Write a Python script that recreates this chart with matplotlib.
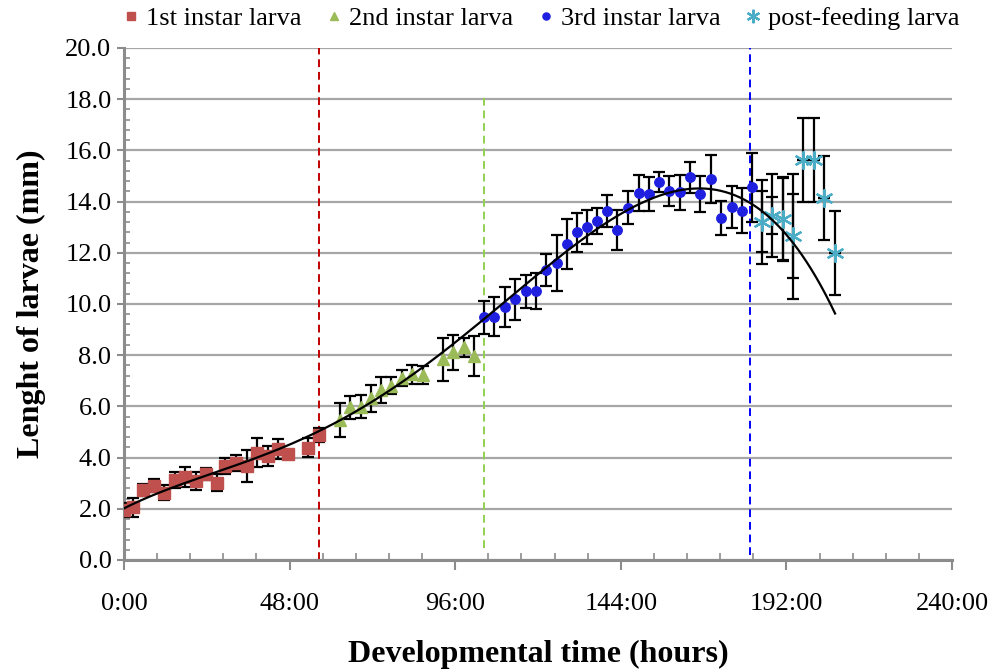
import numpy as np
import matplotlib
matplotlib.use('Agg')
import matplotlib.pyplot as plt
from matplotlib.ticker import MultipleLocator, FuncFormatter

plt.rcParams['font.family'] = ['Liberation Serif', 'DejaVu Serif']

# 1st instar larva
t1 = [0.0, 2.7, 5.6, 8.8, 11.7, 14.8, 17.7, 20.9, 23.8, 26.9, 29.4, 32.5, 35.6,
      38.6, 41.6, 44.7, 47.6, 53.4, 56.6]
y1 = [1.95, 2.06, 2.73, 2.90, 2.63, 3.13, 3.26, 3.09, 3.36, 3.02, 3.67, 3.78, 3.67,
      4.19, 4.06, 4.32, 4.14, 4.39, 4.88]
e1 = [0.26, 0.38, 0.23, 0.26, 0.29, 0.31, 0.39, 0.34, 0.22, 0.34, 0.32, 0.31, 0.61,
      0.56, 0.39, 0.39, 0.15, 0.36, 0.26]

# 2nd instar larva
t2 = [62.6, 65.5, 68.6, 71.5, 74.4, 77.3, 80.5, 83.4, 86.6, 92.6, 95.4, 98.6, 101.4]
y2 = [5.47, 5.96, 5.99, 6.32, 6.64, 6.81, 7.10, 7.25, 7.23, 7.84, 8.11, 8.31, 7.97]
e2 = [0.68, 0.46, 0.45, 0.53, 0.50, 0.34, 0.31, 0.36, 0.36, 0.83, 0.67, 0.38, 0.78]

# 3rd instar larva
t3 = [104.3, 107.2, 110.4, 113.3, 116.4, 119.4, 122.3, 125.4, 128.3, 131.2, 134.3,
      137.2, 140.1, 143.0, 146.2, 149.3, 152.2, 155.1, 158.0, 161.2, 164.0, 167.0,
      170.1, 173.0, 176.1, 179.0, 182.1]
y3 = [9.48, 9.50, 9.87, 10.18, 10.50, 10.50, 11.33, 11.61, 12.34, 12.80, 13.02,
      13.24, 13.63, 12.89, 13.76, 14.35, 14.30, 14.75, 14.40, 14.36, 14.95, 14.30,
      14.87, 13.37, 13.78, 13.64, 14.55]
e3 = [0.65, 0.77, 0.78, 0.81, 0.65, 0.70, 0.64, 1.09, 0.99, 0.76, 0.67,
      0.52, 0.63, 0.77, 0.64, 0.70, 0.65, 0.39, 0.59, 0.68, 0.60, 0.70,
      0.94, 0.67, 0.81, 0.88, 1.35]

# post-feeding larva
t4 = [184.8, 187.9, 190.9, 194.0, 196.7, 200.0, 203.0, 206.1]
y4 = [13.22, 13.45, 13.31, 12.64, 15.63, 15.63, 14.13, 12.00]
e4 = [1.64, 1.63, 1.65, 2.44, 1.64, 1.64, 1.64, 1.63]
e4_inner = [1.20, 0.72, 1.60, 1.64, 0, 0, 0, 0]

# trend line (hours, mm)
trend_t = [0.0, 15.3, 27.8, 30.2, 42.3, 56.5, 81.0, 100.3, 104.1, 128.3, 138.0,
           143.8, 164.1, 169.9, 178.6, 182.4, 194.0, 206.1]
trend_y = [2.02, 2.86, 3.49, 3.65, 4.17, 5.00, 7.03, 8.92, 9.38, 12.11, 13.02,
           13.48, 14.52, 14.48, 14.26, 13.60, 12.57, 9.57]

# stage boundaries (hours)
stage_lines = [56.5, 104.3, 181.4]
stage_colors = ['#C00000', '#92D050', '#0000FF']
stage_spans = [(0.0, 20.0), (0.45, 18.1), (0.2, 20.0)]

labels = ['1st instar larva', '2nd instar larva', '3rd instar larva', 'post-feeding larva']

fig = plt.figure(figsize=(9.91, 6.7), dpi=100)
ax = fig.add_axes([0.1251, 0.1642, 0.8356, 0.7642])

ax.set_xlim(0, 240)
ax.set_ylim(0, 20)

ax.yaxis.set_major_locator(MultipleLocator(2))
ax.yaxis.set_minor_locator(MultipleLocator(0.4))
ax.xaxis.set_major_locator(MultipleLocator(48))
ax.xaxis.set_minor_locator(MultipleLocator(9.6))
ax.yaxis.set_major_formatter(FuncFormatter(lambda v, p: f'{v:.1f}'))
ax.xaxis.set_major_formatter(FuncFormatter(lambda v, p: f'{int(round(v))}:00'))

ax.grid(axis='y', which='major', color='#A6A6A6', lw=1.6, zorder=0)
ax.set_axisbelow(True)

ax.spines['top'].set_visible(False)
ax.spines['right'].set_visible(False)
for s in ['left', 'bottom']:
    ax.spines[s].set_color('#8C8C8C')
    ax.spines[s].set_linewidth(2.2)

ax.tick_params(axis='x', which='major', direction='out', length=7, width=1.5,
               color='#8C8C8C', pad=17, labelsize=19)
ax.tick_params(axis='x', which='minor', direction='in', length=5, width=1.2, color='#8C8C8C')
ax.tick_params(axis='y', which='major', direction='out', length=5, width=1.5,
               color='#8C8C8C', pad=4, labelsize=19)
ax.tick_params(axis='y', which='minor', direction='in', length=4.5, width=1.2, color='#8C8C8C')
ax.tick_params(right=False, top=False, which='both')

# stage boundaries
for x, c, (lo, hi) in zip(stage_lines, stage_colors, stage_spans):
    ax.plot([x, x], [lo, hi], color=c, lw=1.4, ls=(0, (4, 2.5)), zorder=2)

eb = dict(fmt='none', ecolor='black', elinewidth=1.6, capsize=4.2, capthick=1.6, zorder=3)
ax.errorbar(t1, y1, yerr=e1, **eb)
ax.errorbar(t2, y2, yerr=e2, **eb)
ax.errorbar(t3, y3, yerr=e3, **eb)
ax.errorbar(t4, y4, yerr=e4, **eb)
ax.errorbar(t4, y4, yerr=e4_inner, **eb)

h1, = ax.plot(t1, y1, 's', color='#C0504D', ms=8, mec='#C0504D', zorder=4, ls='none')
h2, = ax.plot(t2, y2, '^', color='#9BBB59', ms=8.5, mec='#9BBB59', zorder=4, ls='none')
h3, = ax.plot(t3, y3, 'o', color='#1F1FE0', ms=6.8, mec='#1F1FE0', zorder=4, ls='none')
h4, = ax.plot(t4, y4, marker=(6, 2, 0), color='#4BACC6', ms=13, mew=1.6, zorder=4, ls='none')

# polynomial trend line
coef = np.polyfit(trend_t, trend_y, 5)
xs = np.linspace(0, max(t4), 300)
ax.plot(xs, np.polyval(coef, xs), color='black', lw=1.6, zorder=5)

ax.set_xlabel('Developmental time (hours)', fontsize=23, fontweight='bold', labelpad=18)
ax.set_ylabel('Lenght of larvae (mm)', fontsize=23, fontweight='bold', labelpad=14)

fig.legend([h1, h2, h3, h4], labels, loc='upper center', bbox_to_anchor=(0.545, 1.025),
           ncol=4, frameon=False, fontsize=19, handlelength=0.8, handletextpad=0.15,
           columnspacing=0.85, markerscale=0.75)

fig.savefig('out.png', dpi=100)
